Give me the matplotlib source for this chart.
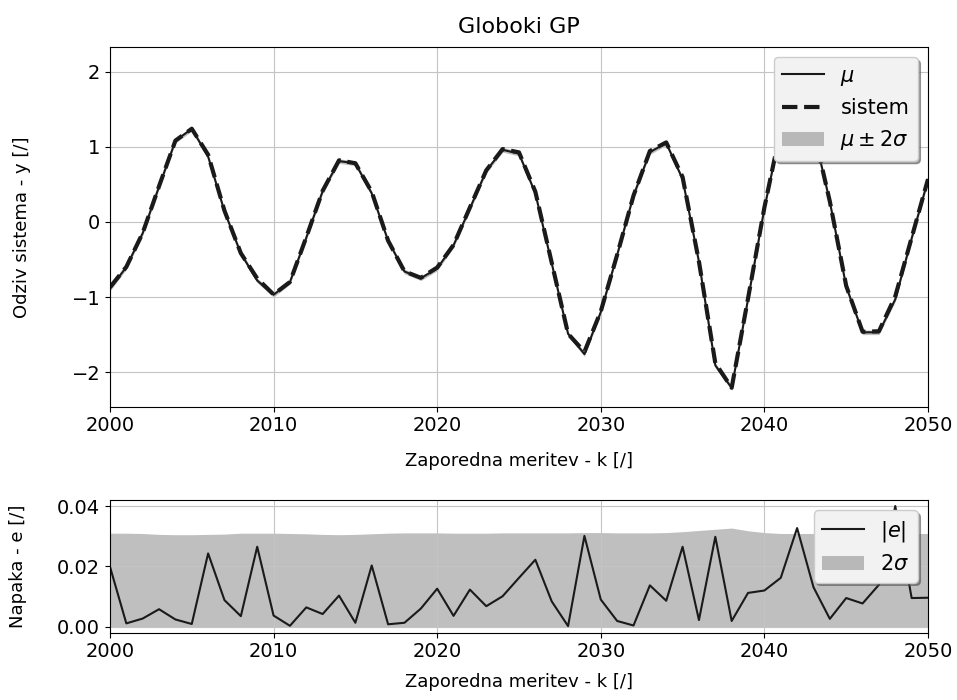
import numpy as np
import matplotlib
matplotlib.use("Agg")
import matplotlib.pyplot as plt

# zaporedne meritve
k = np.arange(2000, 2051)

# napoved GP (mu)
mu = [-0.89, -0.60, -0.15, 0.47, 1.08, 1.24, 0.87, 0.14, -0.42, -0.78,
      -0.97, -0.80, -0.21, 0.41, 0.81, 0.78, 0.38, -0.25, -0.66, -0.75,
      -0.62, -0.31, 0.18, 0.68, 0.96, 0.91, 0.38, -0.55, -1.49, -1.76,
      -1.20, -0.44, 0.35, 0.93, 1.05, 0.57, -0.53, -1.91, -2.21, -1.03,
      0.18, 1.22, 2.08, 1.21, 0.27, -0.86, -1.47, -1.47, -1.03, -0.22,
      0.56]

# absolutna napaka |e|
err = [0.0199, 0.0011, 0.0027, 0.0058, 0.0024, 0.0009, 0.0243, 0.0088, 0.0035, 0.0265,
       0.0037, 0.0003, 0.0064, 0.0042, 0.0103, 0.0013, 0.0203, 0.0008, 0.0013, 0.0060,
       0.0126, 0.0036, 0.0123, 0.0068, 0.0101, 0.0162, 0.0222, 0.0084, 0.0002, 0.0301,
       0.0090, 0.0019, 0.0004, 0.0137, 0.0086, 0.0265, 0.0022, 0.0298, 0.0019, 0.0112,
       0.0120, 0.0162, 0.0327, 0.0131, 0.0026, 0.0095, 0.0077, 0.0139, 0.0400, 0.0095,
       0.0096]

# 2 sigma
sig2 = [0.0310, 0.0310, 0.0309, 0.0306, 0.0305, 0.0305, 0.0306, 0.0307, 0.0310, 0.0310,
        0.0310, 0.0309, 0.0308, 0.0306, 0.0305, 0.0306, 0.0308, 0.0310, 0.0311, 0.0311,
        0.0311, 0.0310, 0.0310, 0.0310, 0.0311, 0.0311, 0.0311, 0.0311, 0.0311, 0.0312,
        0.0312, 0.0311, 0.0311, 0.0311, 0.0312, 0.0315, 0.0319, 0.0323, 0.0327, 0.0318,
        0.0312, 0.0309, 0.0309, 0.0309, 0.0309, 0.0309, 0.0309, 0.0309, 0.0309, 0.0309,
        0.0309]

mu = np.array(mu)
err = np.array(err)
sig2 = np.array(sig2)
sistem = mu + err

fig = plt.figure(figsize=(9.57, 7), dpi=100)
ax1 = fig.add_axes([0.1149, 0.419, 0.8548, 0.514])
ax2 = fig.add_axes([0.1149, 0.0961, 0.8548, 0.1896])

# zgornji graf - odziv
ax1.plot(k, mu, color="#1a1a1a", lw=1.5, label=r"$\mu$")
ax1.plot(k, sistem, "--", color="#1a1a1a", lw=3, label="sistem")
ax1.fill_between(k, mu - sig2, mu + sig2, color="gray", alpha=0.5, lw=0,
                 label=r"$\mu \pm 2\sigma$")
ax1.set_xlim(2000, 2050)
ax1.grid(True, color="#c4c4c4")
ax1.set_title("Globoki GP", fontsize=16, pad=10)
ax1.set_xlabel("Zaporedna meritev - k [/]", fontsize=13, labelpad=12)
ax1.set_ylabel("Odziv sistema - y [/]", fontsize=13)
ax1.yaxis.set_label_coords(-0.097, 0.5)
ax1.tick_params(labelsize=14)
leg1 = ax1.legend(loc="upper right", shadow=True, fontsize=15)
leg1.get_frame().set_facecolor("#f2f2f2")

# spodnji graf - napaka
ax2.plot(k, err, color="#1a1a1a", lw=1.5, label=r"$|e|$")
ax2.fill_between(k, 0, sig2, color="gray", alpha=0.5, lw=0, label=r"$2\sigma$")
ax2.set_xlim(2000, 2050)
ax2.grid(True, color="#c4c4c4")
ax2.set_xlabel("Zaporedna meritev - k [/]", fontsize=13, labelpad=8)
ax2.set_ylabel("Napaka - e [/]", fontsize=13)
ax2.yaxis.set_label_coords(-0.102, 0.5)
ax2.tick_params(labelsize=14)
leg2 = ax2.legend(loc="upper right", shadow=True, fontsize=15)
leg2.get_frame().set_facecolor("#f2f2f2")

plt.savefig("out.png", dpi=100)
